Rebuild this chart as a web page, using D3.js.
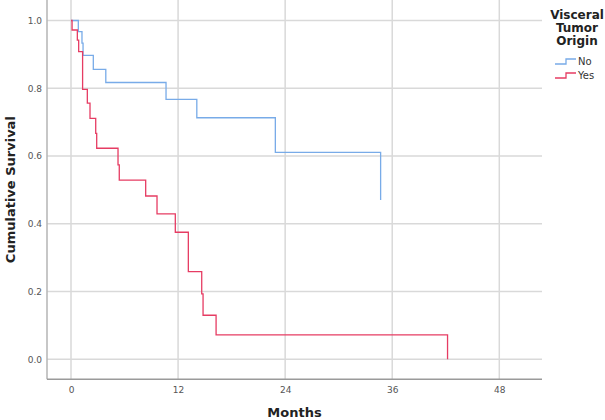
<!DOCTYPE html>
<html>
<head>
<meta charset="utf-8">
<script src="https://cdn.jsdelivr.net/npm/d3@7"></script>
<style>
  html, body { margin: 0; padding: 0; background: #fff; }
  svg { display: block; }
</style>
</head>
<body>
<svg id="chart" width="605" height="420"></svg>
<script>
// ---- data ----
const seriesNames = ["No", "Yes"];
const noTimes = [0, 0.82, 1.23, 1.35, 2.5, 3.9, 10.65, 14.1, 22.9, 34.7];
const noSurv  = [1.0, 0.967, 0.933, 0.897, 0.856, 0.817, 0.767, 0.713, 0.611, 0.47];
const yesTimes = [0, 0.12, 0.71, 0.86, 1.3, 1.83, 2.13, 2.77, 2.88, 5.27, 5.41, 8.37, 9.64, 11.69, 13.15, 14.65, 14.8, 16.26, 42.2];
const yesSurv  = [1.0, 0.972, 0.942, 0.908, 0.797, 0.756, 0.711, 0.667, 0.623, 0.574, 0.529, 0.482, 0.429, 0.375, 0.259, 0.193, 0.130, 0.072, 0.0];
const xTicks = [0, 12, 24, 36, 48];
const yTicks = [0.0, 0.2, 0.4, 0.6, 0.8, 1.0];
const xTitle = "Months";
const yTitle = "Cumulative Survival";
const legendTitle = ["Visceral", "Tumor", "Origin"];
const colors = ["#78abe8", "#e63c63"];

// ---- layout ----
const svg = d3.select("#chart");
const plot = { left: 47, right: 542, top: 0, bottom: 379.3 };

const x = d3.scaleLinear().domain([0, 48]).range([71, 499.3]);
const y = d3.scaleLinear().domain([0, 1]).range([359.3, 20.5]);

// gridlines
const grid = svg.append("g");
grid.selectAll("line.v").data(xTicks).join("line")
  .attr("x1", d => x(d)).attr("x2", d => x(d))
  .attr("y1", plot.top).attr("y2", plot.bottom)
  .attr("stroke", "#d9d9d9").attr("stroke-width", 1.5);
grid.selectAll("line.h").data(yTicks).join("line")
  .attr("x1", plot.left).attr("x2", plot.right)
  .attr("y1", d => y(d)).attr("y2", d => y(d))
  .attr("stroke", "#d9d9d9").attr("stroke-width", 1.5);

// axes lines
svg.append("line").attr("x1", plot.left).attr("x2", plot.left)
  .attr("y1", plot.top).attr("y2", plot.bottom)
  .attr("stroke", "#b5b5b5").attr("stroke-width", 1.5);
svg.append("line").attr("x1", plot.left).attr("x2", plot.right)
  .attr("y1", plot.bottom).attr("y2", plot.bottom)
  .attr("stroke", "#9a9a9a").attr("stroke-width", 1.5);

// tick labels using d3 axes (no domain/tick lines)
const xAxis = svg.append("g").attr("transform", `translate(0,${plot.bottom})`)
  .call(d3.axisBottom(x).tickValues(xTicks).tickSize(0).tickPadding(7).tickFormat(d3.format("d")));
const yAxis = svg.append("g").attr("transform", `translate(${plot.left},0)`)
  .call(d3.axisLeft(y).tickValues(yTicks).tickSize(0).tickPadding(5).tickFormat(d3.format(".1f")));
[xAxis, yAxis].forEach(a => {
  a.select(".domain").remove();
  a.selectAll("text").attr("font-family", "DejaVu Sans, sans-serif")
    .attr("font-size", 9).attr("fill", "#555");
});

// survival step curves
const line = d3.line().x(d => x(d[0])).y(d => y(d[1])).curve(d3.curveStepAfter);
const series = [
  d3.zip(noTimes, noSurv),
  d3.zip(yesTimes, yesSurv)
];
svg.append("g").selectAll("path").data(series).join("path")
  .attr("d", line)
  .attr("fill", "none")
  .attr("stroke", (d, i) => colors[i])
  .attr("stroke-width", 1.3);

// axis titles
svg.append("text").attr("x", (plot.left + plot.right) / 2).attr("y", 417)
  .attr("text-anchor", "middle")
  .attr("font-family", "DejaVu Sans, sans-serif").attr("font-weight", "bold")
  .attr("font-size", 13).attr("fill", "#222").text(xTitle);
svg.append("text")
  .attr("transform", `translate(15,${(plot.top + plot.bottom) / 2}) rotate(-90)`)
  .attr("text-anchor", "middle")
  .attr("font-family", "DejaVu Sans, sans-serif").attr("font-weight", "bold")
  .attr("font-size", 13).attr("fill", "#222").text(yTitle);

// legend
const leg = svg.append("g");
leg.selectAll("text.t").data(legendTitle).join("text")
  .attr("x", 577).attr("y", (d, i) => 19 + i * 13)
  .attr("text-anchor", "middle")
  .attr("font-family", "DejaVu Sans, sans-serif").attr("font-weight", "bold")
  .attr("font-size", 12).attr("fill", "#222").text(d => d);
const items = leg.selectAll("g.item").data(seriesNames).join("g")
  .attr("transform", (d, i) => `translate(0,${65 + i * 14})`);
items.append("path")
  .attr("d", "M555,-1 H566 V-6 H576")
  .attr("fill", "none").attr("stroke", (d, i) => colors[i]).attr("stroke-width", 1.3);
items.append("text").attr("x", 578).attr("y", 0)
  .attr("font-family", "DejaVu Sans, sans-serif")
  .attr("font-size", 10).attr("fill", "#333").text(d => d);
</script>
</body>
</html>
